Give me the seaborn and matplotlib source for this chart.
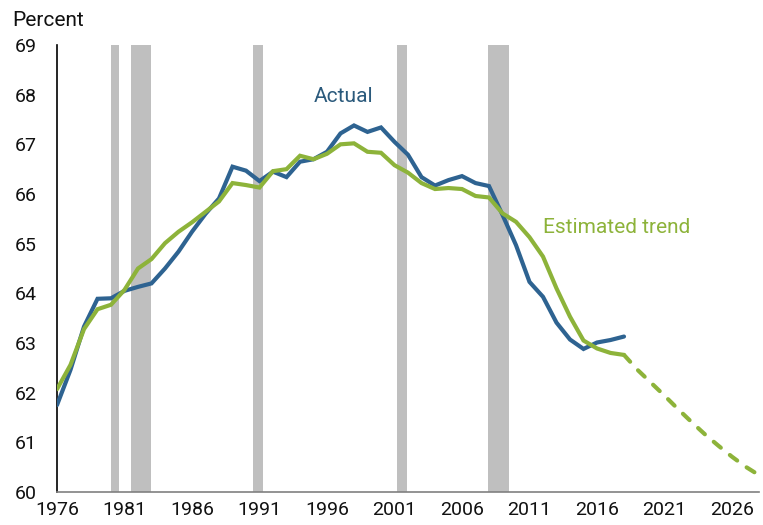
import numpy as np
import pandas as pd
import matplotlib
matplotlib.use("Agg")
import matplotlib.pyplot as plt
import seaborn as sns

years = list(range(1976, 2019))
actual = [61.75, 62.46, 63.33, 63.89, 63.90, 64.05, 64.13, 64.20, 64.50, 64.84,
          65.24, 65.60, 65.91, 66.55, 66.47, 66.26, 66.45, 66.34, 66.65, 66.70,
          66.85, 67.22, 67.38, 67.25, 67.34, 67.05, 66.79, 66.34, 66.17, 66.28,
          66.36, 66.22, 66.16, 65.58, 64.97, 64.23, 63.93, 63.41, 63.07, 62.88,
          63.01, 63.06, 63.13]
trend = [62.07, 62.56, 63.28, 63.68, 63.77, 64.07, 64.50, 64.69, 65.01, 65.24,
         65.43, 65.64, 65.85, 66.22, 66.18, 66.13, 66.46, 66.50, 66.77, 66.70,
         66.81, 67.00, 67.02, 66.85, 66.83, 66.58, 66.43, 66.22, 66.10, 66.12,
         66.10, 65.96, 65.93, 65.61, 65.44, 65.13, 64.74, 64.10, 63.53, 63.05,
         62.89, 62.80, 62.76]
proj_years = list(range(2018, 2030))
projection = [62.76, 62.46, 62.20, 61.94, 61.67, 61.41, 61.16, 60.93, 60.71, 60.51,
              60.34, 60.18]
recessions = [(1980.0, 1980.6), (1981.5, 1982.95), (1990.5, 1991.25),
              (2001.2, 2001.95), (2007.9, 2009.5)]
y_ticks = list(range(60, 70))
x_ticks = [1976, 1981, 1986, 1991, 1996, 2001, 2006, 2011, 2016, 2021, 2026]

BLUE = "#2e6391"
GREEN = "#8db33a"

sns.set_theme(style="white")
plt.rcParams["font.family"] = ["Roboto", "DejaVu Sans"]

fig = plt.figure(figsize=(7.63, 5.25), dpi=100)
ax = fig.add_axes([57/763, 1-492/525, (759-57)/763, (492-45)/525])

for a, b in recessions:
    ax.axvspan(a, b, color="#bfbfbf", lw=0, zorder=0)

df_a = pd.DataFrame({"year": years, "value": actual})
df_t = pd.DataFrame({"year": years, "value": trend})
df_p = pd.DataFrame({"year": proj_years, "value": projection})

sns.lineplot(data=df_a, x="year", y="value", ax=ax, color=BLUE, lw=3,
             solid_joinstyle="miter", solid_capstyle="round", zorder=3)
sns.lineplot(data=df_t, x="year", y="value", ax=ax, color=GREEN, lw=3,
             solid_joinstyle="miter", solid_capstyle="round", zorder=4)
sns.lineplot(data=df_p, x="year", y="value", ax=ax, color=GREEN, lw=3, zorder=4)
line = ax.lines[-1]
line.set_dashes((2.2, 2.8))
line.set_dash_capstyle("round")

ax.set_xlim(1976, 2028)
ax.set_ylim(60, 69)
ax.set_xticks(x_ticks)
ax.set_yticks(y_ticks)
ax.set_xlabel("")
ax.set_ylabel("")
ax.tick_params(axis="both", labelsize=14, length=6, width=1.2, color="#808080",
               direction="out", labelcolor="#111111")
ax.tick_params(axis="y", pad=8.5)
ax.tick_params(axis="x", pad=0.5)
for s in ["top", "right"]:
    ax.spines[s].set_visible(False)
ax.spines["left"].set_color("black")
ax.spines["left"].set_linewidth(1.2)
ax.spines["bottom"].set_color("#808080")
ax.spines["bottom"].set_linewidth(1.2)

ax.text(1995.0, 67.97, "Actual", color="#2b5a7c", fontsize=15, va="center", ha="left")
ax.text(2012.0, 65.32, "Estimated trend", color=GREEN, fontsize=15, va="center", ha="left")
fig.text(12/763, 1-20/525, "Percent", fontsize=15, va="center", ha="left", color="#111111")

fig.savefig("out.png", dpi=100)
